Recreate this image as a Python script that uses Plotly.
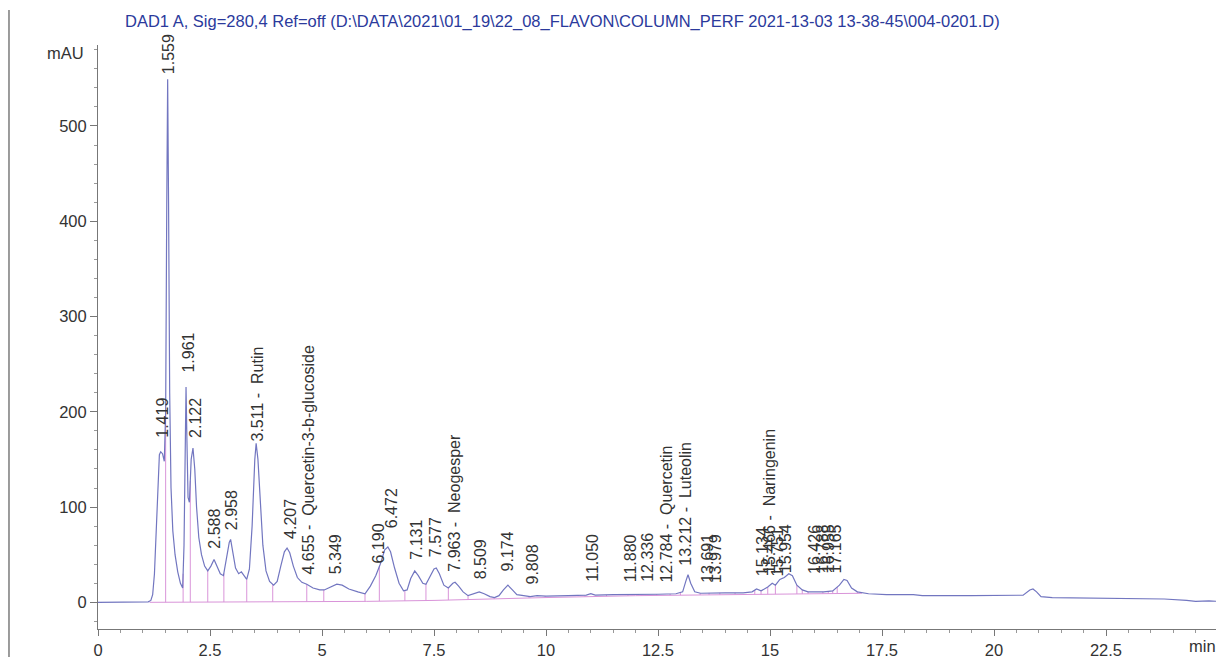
import numpy as np
import plotly.graph_objects as go

# ---- chromatogram trace (time in min, signal in mAU) ----
trace_t = [0.0, 0.5, 1.0, 1.12, 1.18, 1.22, 1.26, 1.30, 1.34, 1.37, 1.40, 1.44, 1.48, 1.51, 1.535,
           1.555, 1.575, 1.60, 1.63, 1.67, 1.72, 1.78, 1.84, 1.89, 1.92, 1.945, 1.965, 1.985, 2.01,
           2.04, 2.08, 2.12, 2.16, 2.20, 2.25, 2.31, 2.38, 2.45, 2.52, 2.59, 2.66, 2.73, 2.80, 2.87,
           2.93, 2.96, 3.00, 3.07, 3.14, 3.20, 3.26, 3.32, 3.38, 3.44, 3.50, 3.53, 3.57, 3.62, 3.68,
           3.75, 3.83, 3.92, 4.00, 4.08, 4.16, 4.22, 4.28, 4.36, 4.45, 4.55, 4.66, 4.80, 4.95, 5.05,
           5.20, 5.33, 5.45, 5.60, 5.80, 5.96, 6.08, 6.20, 6.30, 6.40, 6.47, 6.53, 6.62, 6.72, 6.82,
           6.90, 6.98, 7.07, 7.15, 7.25, 7.32, 7.40, 7.50, 7.55, 7.62, 7.72, 7.82, 7.92, 7.97, 8.05,
           8.15, 8.26, 8.40, 8.51, 8.62, 8.75, 8.85, 8.95, 9.05, 9.15, 9.25, 9.35, 9.50, 9.65, 9.80,
           10.0, 10.5, 10.9, 11.0, 11.1, 11.5, 12.0, 12.5, 12.9, 13.05, 13.12, 13.17, 13.23, 13.32,
           13.45, 13.7, 14.0, 14.4, 14.6, 14.70, 14.80, 14.95, 15.05, 15.12, 15.22, 15.32, 15.42,
           15.50, 15.60, 15.72, 15.85, 16.0, 16.2, 16.40, 16.55, 16.65, 16.72, 16.82, 16.95, 17.2,
           17.6, 18.2, 18.4, 19.5, 20.5, 20.65, 20.8, 20.87, 20.95, 21.05, 21.3, 22.0, 23.0, 23.8,
           24.3, 24.5, 24.8, 25.0]
trace_y = [0, 0, 0, 0.5, 2, 8, 30, 80, 135, 155, 158, 156, 148, 200, 420,
           549, 420, 220, 120, 75, 50, 32, 20, 15, 60, 170, 226, 170, 110,
           105, 150, 162, 140, 100, 68, 50, 38, 33, 38, 45, 38, 30, 28, 45,
           63, 66, 55, 36, 30, 32, 28, 24, 35, 80, 150, 167, 150, 105, 60,
           33, 22, 18, 22, 38, 53, 57, 52, 38, 26, 21, 19, 15, 13, 13,
           16, 19, 18, 14, 11, 9, 17, 28, 40, 55, 58, 53, 36, 20, 12,
           13, 25, 33, 28, 20, 19, 26, 35, 36, 30, 18, 15, 20, 21, 17,
           11, 7, 9, 11, 9, 6, 5, 7, 13, 18, 13, 8, 7, 6, 7,
           6.5, 7, 7.5, 9, 7.5, 8, 8, 8.5, 9, 11, 22, 29, 20, 11,
           9.5, 10, 10, 10, 11, 14, 12, 16, 20, 18, 24, 26, 30,
           28, 18, 13, 11, 11, 11, 12, 18, 24, 23, 15, 11, 9,
           8, 8, 7, 7, 7, 7.5, 13, 14, 11, 6, 5, 4.5, 4, 3.5,
           2, 1, 1.5, 1]

# ---- integration baseline (pink) ----
base_t = [1.15, 4.0, 6.0, 7.5, 9.0, 10.0, 12.0, 14.0, 16.0, 17.05]
base_y = [0, 0.5, 1, 2, 4, 5, 7, 8, 9, 9.5]

# ---- peak boundary drop lines (min) ----
drop_t = [1.51, 1.90, 2.06, 2.45, 2.81, 3.32, 3.90, 4.66, 5.04, 5.96, 6.28, 6.85, 7.32, 7.82,
          8.26, 8.84, 9.62, 9.98, 10.87, 11.35, 11.83, 12.14, 12.47, 12.77, 13.0, 13.44, 13.64,
          13.88, 14.22, 14.66, 14.8, 14.95, 15.12, 15.6, 15.72, 15.85, 16.18, 16.3, 16.4, 16.5,
          16.95]

# ---- peak labels: text, label position (min), label base (mAU) ----
peak_text = ["1.419", "1.559", "1.961", "2.122", "2.588", "2.958", "3.511 -  Rutin", "4.207",
             "4.655 -  Quercetin-3-b-glucoside", "5.349", "6.190", "6.472", "7.131", "7.577",
             "7.963 -  Neogesper", "8.509", "9.174", "9.808", "11.050", "11.880", "12.336",
             "12.784 -  Quercetin", "13.212 -  Luteolin", "13.691", "13.979", "15.134",
             "15.466 -  Naringenin", "15.751", "15.954", "16.426", "16.788", "16.955", "17.165"]
peak_x = [1.44, 1.56, 2.01, 2.18, 2.61, 2.98, 3.57, 4.28, 4.69, 5.31, 6.26, 6.55, 7.11, 7.52,
          7.97, 8.53, 9.15, 9.70, 11.02, 11.88, 12.26, 12.70, 13.12, 13.60, 13.79, 14.85, 15.0,
          15.17, 15.34, 15.98, 16.17, 16.30, 16.46]
peak_y = [167, 549, 236, 167, 51, 70, 164, 61, 24, 24, 36, 73, 39, 42, 27, 19, 27, 13, 16, 16,
          16, 16, 33, 15, 15, 22, 24, 22, 25, 25, 25, 25, 25]

x_tickvals = [0, 2.5, 5, 7.5, 10, 12.5, 15, 17.5, 20, 22.5]
x_ticktext = ["0", "2.5", "5", "7.5", "10", "12.5", "15", "17.5", "20", "22.5"]
y_tickvals = [0, 100, 200, 300, 400, 500]

TITLE = "DAD1 A, Sig=280,4 Ref=off (D:\\DATA\\2021\\01_19\\22_08_FLAVON\\COLUMN_PERF 2021-13-03 13-38-45\\004-0201.D)"

TRACE_COLOR = "#7276c0"
PINK = "#d994d9"
FONT = "Liberation Sans, Arial, sans-serif"
TXT = "#333333"

fig = go.Figure()

# drop lines
dx, dy = [], []
tops = np.interp(drop_t, trace_t, trace_y)
bots = np.interp(drop_t, base_t, base_y, left=0, right=base_y[-1])
for t, b, h in zip(drop_t, bots, tops):
    dx += [t, t, None]
    dy += [b, h, None]
fig.add_trace(go.Scatter(x=dx, y=dy, mode="lines", line=dict(color=PINK, width=1),
                         hoverinfo="skip", showlegend=False))
fig.add_trace(go.Scatter(x=base_t, y=base_y, mode="lines", line=dict(color=PINK, width=1),
                         hoverinfo="skip", showlegend=False))
fig.add_trace(go.Scatter(x=trace_t, y=trace_y, mode="lines",
                         line=dict(color=TRACE_COLOR, width=1.2), showlegend=False))

annotations = []
for txt, x, y in zip(peak_text, peak_x, peak_y):
    annotations.append(dict(x=x, y=y, xref="x", yref="y", text=txt, textangle=-90,
                            showarrow=False, xanchor="center", yanchor="bottom", yshift=3,
                            font=dict(family=FONT, size=16, color=TXT)))
annotations.append(dict(x=0.0223, y=1.0406, xref="paper", yref="paper", text=TITLE,
                        showarrow=False, xanchor="left", yanchor="middle",
                        font=dict(family=FONT, size=16.5, color="#2b3a9c")))
annotations.append(dict(x=0, y=577, xref="paper", yref="y", text="mAU", showarrow=False,
                        xanchor="right", yanchor="middle", xshift=-12,
                        font=dict(family=FONT, size=16.5, color=TXT)))
annotations.append(dict(x=25, y=0, xref="x", yref="paper", text="min", showarrow=False,
                        xanchor="right", yanchor="top", yshift=-6,
                        font=dict(family=FONT, size=16.5, color=TXT)))

fig.update_layout(
    width=1216, height=657,
    margin=dict(l=90, r=6, t=37, b=29),
    paper_bgcolor="white", plot_bgcolor="white",
    annotations=annotations,
    shapes=[dict(type="line", xref="paper", yref="paper", x0=-0.0795, x1=-0.0795,
                 y0=-0.06, y1=1.06, line=dict(color="#9a9a9a", width=2))],
    xaxis=dict(range=[0, 25], showgrid=False, zeroline=False, showline=True,
               linecolor="#777777", linewidth=1, ticks="outside", ticklen=6,
               tickcolor="#777777", tickvals=x_tickvals, ticktext=x_ticktext,
               tickfont=dict(family=FONT, size=16.5, color=TXT),
               minor=dict(dtick=0.5, ticks="outside", ticklen=3, tickcolor="#999999"),
               fixedrange=True),
    yaxis=dict(range=[-28, 585], showgrid=False, zeroline=False, showline=True,
               linecolor="#777777", linewidth=1, ticks="outside", ticklen=7,
               tickcolor="#777777", tickvals=y_tickvals,
               tickfont=dict(family=FONT, size=16.5, color=TXT),
               minor=dict(dtick=20, ticks="outside", ticklen=3, tickcolor="#999999"),
               fixedrange=True),
)

fig.write_html("out.html")
